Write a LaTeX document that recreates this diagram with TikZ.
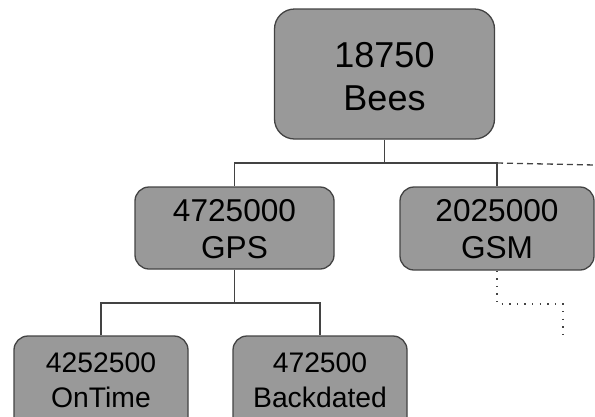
\documentclass[tikz,border=0pt]{standalone}
\usepackage{fontspec}
\setmainfont{Liberation Sans}
\begin{document}
\begin{tikzpicture}[x=1pt,y=-1pt,
  box/.style={draw=boxline,fill=boxfill,line width=1.3pt,rounded corners=#1,inner sep=0pt},
  box/.default=14pt,
  conn/.style={draw=boxline,line width=1.3pt},
  dashedconn/.style={draw=boxline,line width=1.3pt,dash pattern=on 6pt off 4pt},
  dottedconn/.style={draw=boxline,line width=1.3pt,dash pattern=on 1.3pt off 6.3pt},
  big/.style={font=\fontsize{36}{43}\selectfont,anchor=base,inner sep=0pt},
  mid/.style={font=\fontsize{31.6}{37}\selectfont,anchor=base,inner sep=0pt},
  small/.style={font=\fontsize{28.3}{35}\selectfont,anchor=base,inner sep=0pt}]
\definecolor{boxfill}{RGB}{153,153,153}
\definecolor{boxline}{RGB}{67,67,67}
\useasboundingbox (0,0) rectangle (595,416);
\clip (0,0) rectangle (595,416);

% boxes
\node[box=20pt,minimum width=220pt,minimum height=130pt] (bees) at (384.5,74) {};
\node[box,minimum width=199pt,minimum height=82pt] (gps) at (234.5,228) {};
\node[box,minimum width=194pt,minimum height=83pt] (gsm) at (497,228.5) {};
\node[box,minimum width=174pt,minimum height=110pt] (ontime) at (101,391) {};
\node[box,minimum width=174pt,minimum height=110pt] (backdated) at (320,391) {};

% labels
\node[big] (beesA) at (384.5,67) {18750};
\node[big] (beesB) at (384.5,110) {Bees};
\node[mid] (gpsA) at (234.5,221) {4725000};
\node[mid] (gpsB) at (234.5,258) {GPS};
\node[mid] (gsmA) at (497,221) {2025000};
\node[mid] (gsmB) at (497,258) {GSM};
\node[small] (ontimeA) at (101,372) {4252500};
\node[small] (ontimeB) at (101,407) {OnTime};
\node[small] (backA) at (320,372) {472500};
\node[small] (backB) at (320,407) {Backdated};

% connectors
\coordinate (busL) at (gps.north |- 0,163);
\coordinate (busR) at (gsm.north |- 0,163);
\coordinate (busLow) at (gps.south |- 0,303);
\coordinate (dashEnd) at (595,165);
\coordinate (dotEnd) at (563,337);
\draw[conn] (bees.south) -- (bees.south |- busL);
\draw[conn] (gps.north) -- (busL) -- (busR) -- (gsm.north);
\draw[dashedconn] (busR) -- (dashEnd);
\draw[conn] (gps.south) -- (busLow);
\draw[conn] (ontime.north) -- (ontime.north |- busLow) -- (backdated.north |- busLow) -- (backdated.north);
\draw[dottedconn] (gsm.south) -- (gsm.south |- 0,304) -| (dotEnd);
\end{tikzpicture}
\end{document}
